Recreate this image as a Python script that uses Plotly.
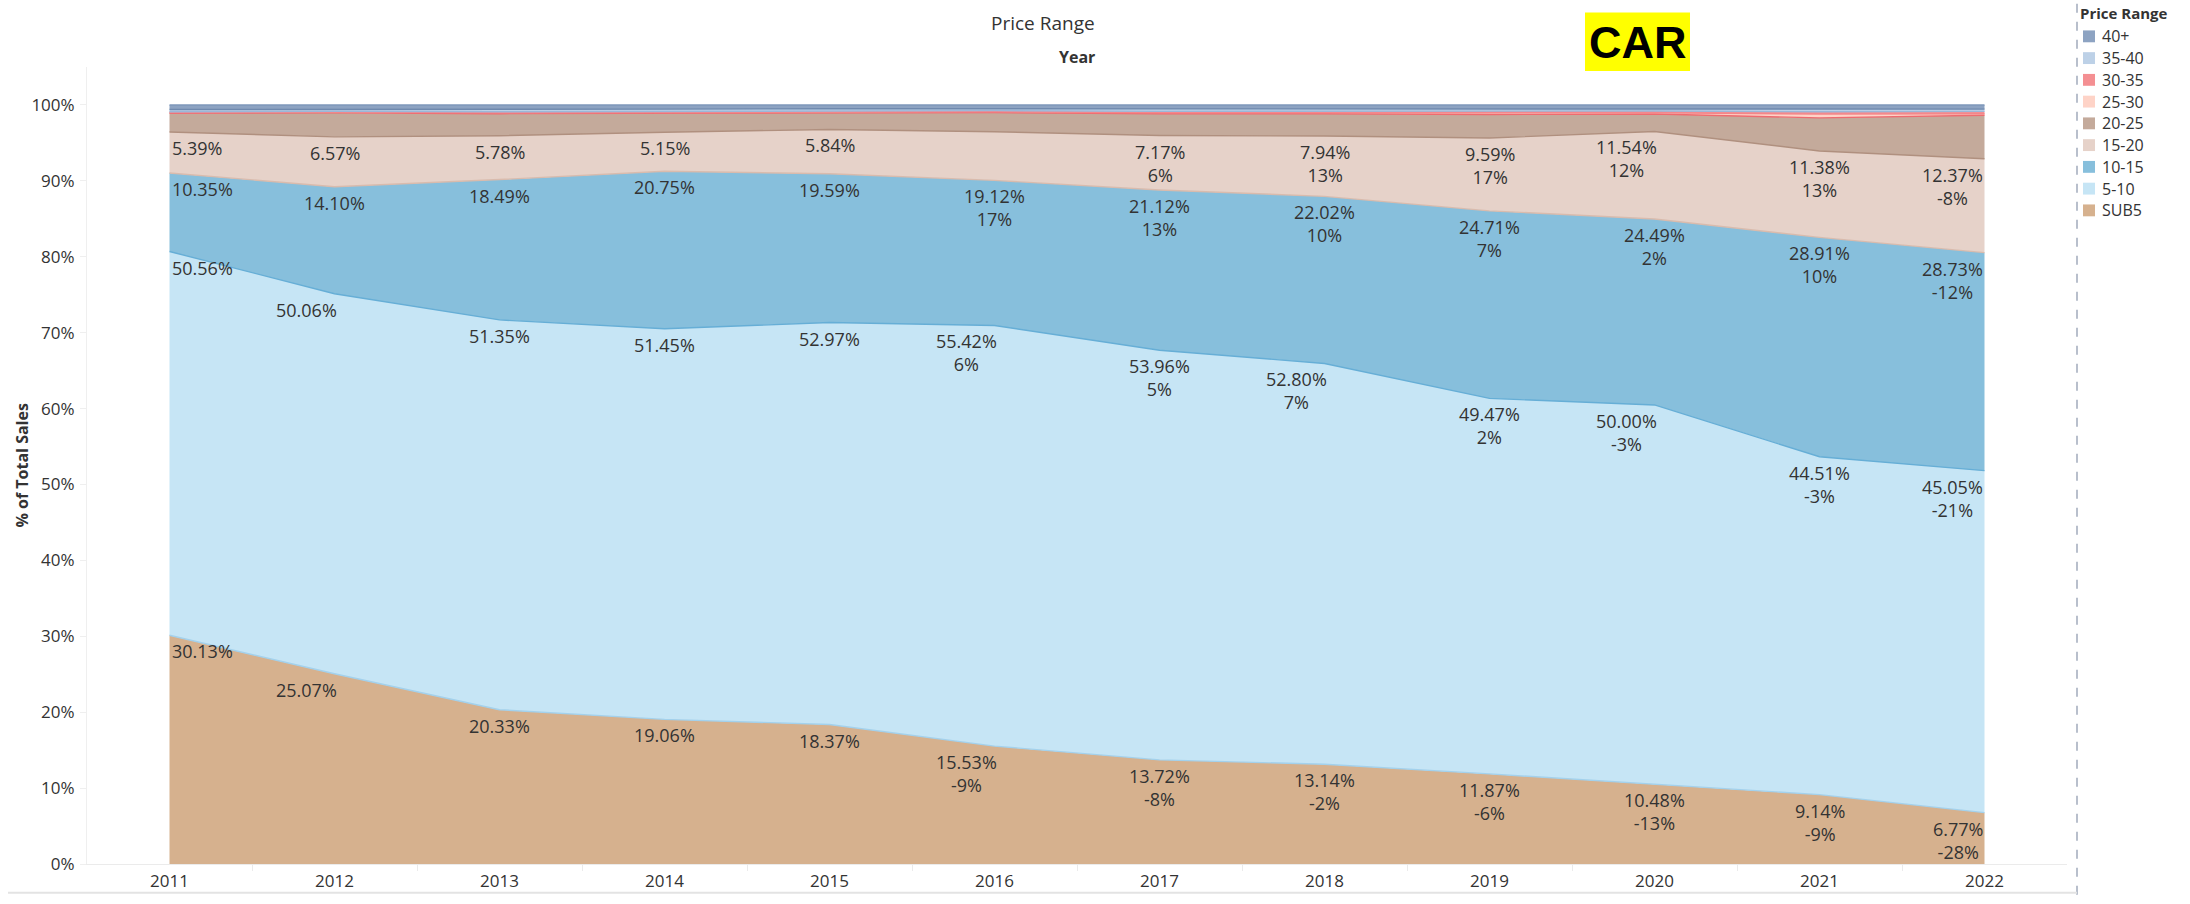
import plotly.graph_objects as go
import numpy as np

# ---------------- data ----------------
years = [2011, 2012, 2013, 2014, 2015, 2016, 2017, 2018, 2019, 2020, 2021, 2022]
year_labels = ["2011", "2012", "2013", "2014", "2015", "2016", "2017", "2018", "2019", "2020", "2021", "2022"]
categories = ["SUB5", "5-10", "10-15", "15-20", "20-25", "25-30", "30-35", "35-40", "40+"]
y_tick_values = [0, 10, 20, 30, 40, 50, 60, 70, 80, 90, 100]
y_tick_labels = ["0%", "10%", "20%", "30%", "40%", "50%", "60%", "70%", "80%", "90%", "100%"]

sub5 = [30.13, 25.07, 20.33, 19.06, 18.37, 15.53, 13.72, 13.14, 11.87, 10.48, 9.14, 6.77]
r5_10 = [50.56, 50.06, 51.35, 51.45, 52.97, 55.42, 53.96, 52.80, 49.47, 50.00, 44.51, 45.05]
r10_15 = [10.35, 14.10, 18.49, 20.75, 19.59, 19.12, 21.12, 22.02, 24.71, 24.49, 28.91, 28.73]
r15_20 = [5.39, 6.57, 5.78, 5.15, 5.84, 6.40, 7.17, 7.94, 9.59, 11.54, 11.38, 12.37]
r20_25 = [2.47, 3.15, 2.90, 2.49, 2.18, 2.53, 2.88, 2.95, 3.11, 2.29, 4.36, 5.73]
r25_30 = [0.10, 0.10, 0.10, 0.10, 0.10, 0.10, 0.10, 0.10, 0.15, 0.15, 0.50, 0.20]
r30_35 = [0.10, 0.10, 0.15, 0.15, 0.15, 0.15, 0.20, 0.20, 0.25, 0.25, 0.30, 0.30]
r35_40 = [0.30, 0.25, 0.30, 0.30, 0.30, 0.25, 0.30, 0.30, 0.35, 0.30, 0.35, 0.30]
r40p = [0.60, 0.60, 0.60, 0.55, 0.50, 0.50, 0.55, 0.55, 0.50, 0.50, 0.55, 0.55]

# year-over-year growth labels (None = not shown)
sub5_growth = [None, None, None, None, None, -9, -8, -2, -6, -13, -9, -28]
r5_10_growth = [None, None, None, None, None, 6, 5, 7, 2, -3, -3, -21]
r10_15_growth = [None, None, None, None, None, 17, 13, 10, 7, 2, 10, -12]
r15_20_growth = [None, None, None, None, None, None, 6, 13, 17, 12, 13, -8]
# share labels hidden in the original
r15_20_hidden = [2016]

series = [sub5, r5_10, r10_15, r15_20, r20_25, r25_30, r30_35, r35_40, r40p]

# ---------------- styles ----------------
FILL = ["#D6B18E", "#C6E5F5", "#87BFDC", "#E6D2C9", "#C4AA9B",
        "#FED3C7", "#F48F92", "#BDD1E7", "#8DA3C2"]
# boundary line on top of each band takes the colour of the band above
LINE = ["#A3D1EC", "#66AED6", "#D9BBAD", "#B0907F", "#EE6B70",
        "#F3868A", "#9BB7D8", "#6F89AE", "#7E97BA"]

W, H = 2190, 904
L, R, T, B = 87, 2067, 67, 873
YMAX = 105.0


def px_x(px):
    return (px - L) / (R - L)


def px_y(py):
    return (B - py) / (B - T)


FONT = "Open Sans, Noto Sans, sans-serif"
TXT = "#333333"

fig = go.Figure()
for cat, vals, fc, lc in zip(categories, series, FILL, LINE):
    fig.add_trace(go.Scatter(
        x=years, y=vals, name=cat, stackgroup="one", mode="lines",
        line=dict(color=lc, width=1.4), fillcolor=fc, showlegend=False,
        hovertemplate="%{x}: %{y:.2f}%<extra>" + cat + "</extra>",
    ))

# ---------------- data labels ----------------
cum = np.cumsum(np.array(series[:4]), axis=0)
label_sets = [
    ("SUB5", sub5, sub5_growth, []),
    ("5-10", r5_10, r5_10_growth, []),
    ("10-15", r10_15, r10_15_growth, []),
    ("15-20", r15_20, r15_20_growth, r15_20_hidden),
]
shift_left = {("SUB5", 2012), ("SUB5", 2016), ("5-10", 2012), ("5-10", 2016),
              ("5-10", 2018), ("5-10", 2020), ("15-20", 2020)}

annotations = []
for k, (cat, vals, growth, hidden) in enumerate(label_sets):
    for i, yr in enumerate(years):
        if yr in hidden:
            continue
        txt = f"{vals[i]:.2f}%"
        if growth[i] is not None:
            txt += f"<br>{growth[i]}%"
        if i == 0:
            xa = "left"
        elif i == len(years) - 1:
            xa = "right"
        else:
            xa = "center"
        xs = -28 if (cat, yr) in shift_left else 0
        annotations.append(dict(
            x=yr, y=float(cum[k][i]), xref="x", yref="y", text=txt,
            showarrow=False, xanchor=xa, yanchor="top", yshift=-2, xshift=xs,
            align="center", font=dict(family=FONT, size=18, color=TXT),
        ))

# ---------------- titles ----------------
annotations.append(dict(x=px_x(1097), y=px_y(22), xref="paper", yref="paper",
                        text="Price Range", showarrow=False, xanchor="right", yanchor="middle",
                        font=dict(family=FONT, size=19, color=TXT)))
annotations.append(dict(x=px_x(1097), y=px_y(57), xref="paper", yref="paper",
                        text="<b>Year</b>", showarrow=False, xanchor="right", yanchor="middle",
                        font=dict(family=FONT, size=16, color=TXT)))
annotations.append(dict(x=px_x(21), y=px_y(470), xref="paper", yref="paper",
                        text="<b>% of Total Sales</b>", showarrow=False, textangle=-90,
                        xanchor="center", yanchor="middle",
                        font=dict(family=FONT, size=16, color=TXT)))
# CAR badge
shapes = [dict(type="rect", xref="paper", yref="paper",
               x0=px_x(1585), x1=px_x(1690), y0=px_y(71), y1=px_y(12),
               fillcolor="#FFFF00", line=dict(width=0), layer="above")]
annotations.append(dict(x=px_x(1637.5), y=px_y(42), xref="paper", yref="paper",
                        text="<b>CAR</b>", showarrow=False, xanchor="center", yanchor="middle",
                        font=dict(family="Liberation Sans, Arial, sans-serif", size=45, color="#000000")))

# ---------------- manual legend ----------------
annotations.append(dict(x=px_x(2078), y=px_y(12), xref="paper", yref="paper",
                        text="<b>Price Range</b>", showarrow=False, xanchor="left", yanchor="middle",
                        font=dict(family=FONT, size=15, color=TXT)))
for j, (cat, fc) in enumerate(zip(categories[::-1], FILL[::-1])):
    yc = 36 + 22 * j
    shapes.append(dict(type="rect", xref="paper", yref="paper",
                       x0=px_x(2083), x1=px_x(2095), y0=px_y(yc + 6), y1=px_y(yc - 6),
                       fillcolor=fc, line=dict(width=0)))
    annotations.append(dict(x=px_x(2100), y=px_y(yc), xref="paper", yref="paper",
                            text=cat, showarrow=False, xanchor="left", yanchor="middle",
                            font=dict(family=FONT, size=16, color=TXT)))

# separators
shapes.append(dict(type="line", xref="paper", yref="paper",
                   x0=px_x(2077), x1=px_x(2077), y0=px_y(904), y1=px_y(0),
                   line=dict(color="#B8BFCC", width=2, dash="dash")))
shapes.append(dict(type="line", xref="paper", yref="paper",
                   x0=px_x(8), x1=px_x(2077), y0=px_y(902), y1=px_y(902),
                   line=dict(color="#E3E3E3", width=2)))

mids = [y + 0.5 for y in years[:-1]]

fig.update_layout(
    width=W, height=H,
    margin=dict(l=L, r=W - R, t=T, b=H - B),
    paper_bgcolor="white", plot_bgcolor="white",
    showlegend=False,
    font=dict(family=FONT, color=TXT),
    annotations=annotations, shapes=shapes,
    xaxis=dict(range=[2010.5, 2022.5], tickvals=years, ticktext=year_labels,
               showgrid=False, zeroline=False, showline=True, linecolor="#EBEBEB", linewidth=1,
               ticks="", tickfont=dict(family=FONT, size=17, color=TXT), ticklabelstandoff=2,
               minor=dict(tickvals=mids, ticks="outside", ticklen=6, tickcolor="#EBEBEB")),
    yaxis=dict(range=[0, YMAX], tickvals=y_tick_values, ticktext=y_tick_labels,
               showgrid=False, zeroline=False, showline=True, linecolor="#EFEFEF", linewidth=1,
               ticks="outside", ticklen=6, tickcolor="#EFEFEF",
               tickfont=dict(family=FONT, size=17, color=TXT), ticklabelstandoff=2),
)

fig.write_html("out.html", config={"displayModeBar": False},
               post_script="document.body.style.margin='0';document.body.style.overflow='hidden';")
